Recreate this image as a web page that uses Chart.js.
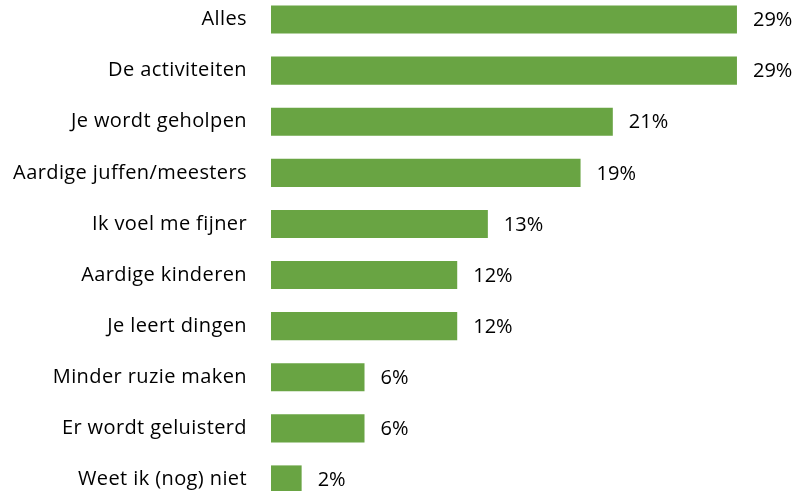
<!DOCTYPE html>
<html><head><meta charset="utf-8">
<script src="https://cdn.jsdelivr.net/npm/chart.js@4/dist/chart.umd.min.js"></script>
<style>
html,body{margin:0;padding:0;background:#fff;overflow:hidden;width:795px;height:491px;}
#wrap{position:absolute;left:0;top:-6px;width:795px;height:520px;}
</style></head><body>
<div id="wrap"><canvas id="c" width="795" height="520"></canvas></div>
<script>
const categories = ['Alles','De activiteiten','Je wordt geholpen','Aardige juffen/meesters','Ik voel me fijner','Aardige kinderen','Je leert dingen','Minder ruzie maken','Er wordt geluisterd','Weet ik (nog) niet'];
const values = [28.9, 28.9, 21.2, 19.2, 13.45, 11.55, 11.55, 5.8, 5.8, 1.9];
const valueLabels = ['29%','29%','21%','19%','13%','12%','12%','6%','6%','2%'];
const FONT = 'Open Sans';
const FSIZE = 20;
const spacingPlugin = {
  id:'spacing',
  beforeDraw(chart){ chart.ctx.letterSpacing = '0.4px'; },
  afterDraw(chart){ chart.ctx.letterSpacing = '0px'; }
};
const valueLabelPlugin = {
  id:'valueLabels',
  afterDatasetsDraw(chart){
    const ctx = chart.ctx;
    const meta = chart.getDatasetMeta(0);
    ctx.save();
    ctx.letterSpacing = '0px';
    ctx.font = FSIZE + 'px "' + FONT + '"';
    ctx.fillStyle = '#000';
    ctx.textBaseline = 'middle';
    ctx.textAlign = 'left';
    meta.data.forEach((bar,i)=>{
      ctx.fillText(valueLabels[i], bar.x + 16, bar.y + 1);
    });
    ctx.restore();
  }
};
new Chart(document.getElementById('c'), {
  type:'bar',
  data:{labels:categories, datasets:[{data:values, backgroundColor:'#69a443', borderWidth:0, barPercentage:0.55, categoryPercentage:1}]},
  options:{
    indexAxis:'y', responsive:false, animation:false,
    layout:{padding:{left:0,right:0,top:0,bottom:9}},
    plugins:{legend:{display:false}, tooltip:{enabled:false}},
    scales:{
      x:{display:false, min:0, max:32.5},
      y:{
        grid:{display:false, drawTicks:false},
        border:{display:false},
        ticks:{color:'#000', font:{family:FONT,size:FSIZE}, padding:24},
        afterFit(scale){ scale.width = 271; scale.paddingTop = 0; scale.paddingBottom = 0; }
      }
    }
  },
  plugins:[spacingPlugin, valueLabelPlugin]
});
</script></body></html>
